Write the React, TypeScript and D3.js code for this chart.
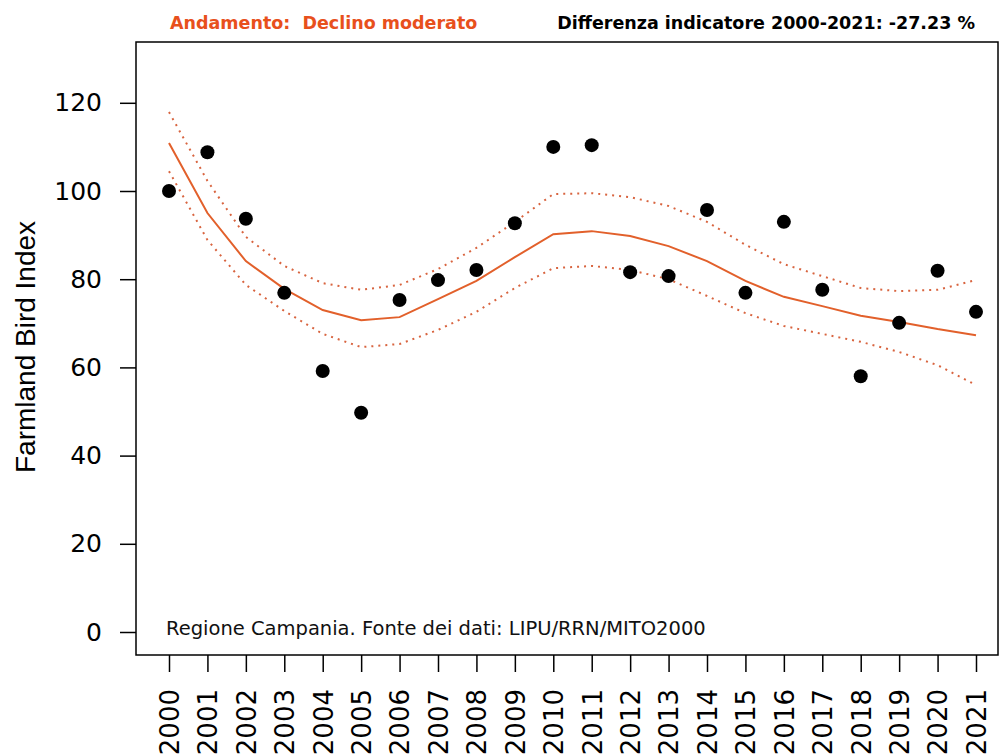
import React, { useRef, useEffect } from 'react';
import * as d3 from 'd3';

// Years on the x axis
const years = d3.range(2000, 2022);

// Observed index values (points)
const indexValues = [100, 108.8, 93.7, 76.9, 59.2, 49.7, 75.3, 79.8, 82.1, 92.7, 110, 110.4,
  81.6, 80.7, 95.7, 76.9, 93, 77.6, 58, 70.1, 81.9, 72.6];

// Smoothed trend and its confidence band
const trendValues = [110.9, 95, 84.1, 77.8, 73, 70.7, 71.4, 75.5, 79.6, 85, 90.2, 90.9,
  89.8, 87.5, 84.1, 79.6, 76, 73.9, 71.7, 70.3, 68.7, 67.3];
const upperValues = [117.9, 102.3, 89.6, 83, 79.1, 77.6, 78.7, 82.3, 87.1, 93, 99.3, 99.5,
  98.6, 96.6, 93, 87.8, 83.4, 80.7, 78, 77.3, 77.6, 79.8];
const lowerValues = [104.5, 88.9, 78.7, 72.8, 67.6, 64.6, 65.3, 68.5, 72.6, 78, 82.5, 83,
  82.1, 80, 76.2, 72.3, 69.4, 67.6, 65.8, 63.5, 60.5, 56];

const yTicks = [0, 20, 40, 60, 80, 100, 120];

const App = () => {
  const svgRef = useRef<SVGSVGElement>(null);

  useEffect(() => {
    const width = 999;
    const height = 755;
    const left = 136;
    const right = 998;
    const top = 42;
    const bottom = 655;
    const font = 'DejaVu Sans, Verdana, sans-serif';

    const svg = d3.select(svgRef.current)
      .attr('width', width)
      .attr('height', height)
      .style('position', 'absolute')
      .style('left', '0px')
      .style('top', '0px')
      .style('font-family', font);

    svg.selectAll('*').remove();

    svg.append('rect')
      .attr('width', width).attr('height', height).attr('fill', '#fff');

    const x = d3.scaleLinear().domain([2000, 2021]).range([169, 976]);
    const y = d3.scaleLinear().domain([0, 100]).range([632, 191]);

    // plot box
    svg.append('rect')
      .attr('x', left).attr('y', top)
      .attr('width', right - left).attr('height', bottom - top)
      .attr('fill', 'none').attr('stroke', '#000').attr('stroke-width', 1.5);

    // y axis
    const yAxis = svg.append('g')
      .attr('transform', `translate(${left},0)`)
      .call(d3.axisLeft(y).tickValues(yTicks).tickSize(16).tickPadding(18).tickFormat(d3.format('d')));
    yAxis.select('.domain').remove();
    yAxis.selectAll('.tick line').attr('stroke', '#000').attr('stroke-width', 1.5);
    yAxis.selectAll('.tick text')
      .attr('font-size', 25).attr('fill', '#000')
      .style('font-family', font);

    // x axis
    const xAxis = svg.append('g')
      .attr('transform', `translate(0,${bottom})`)
      .call(d3.axisBottom(x).tickValues(years).tickSize(17).tickFormat(d3.format('d')));
    xAxis.select('.domain').remove();
    xAxis.selectAll('.tick line').attr('stroke', '#000').attr('stroke-width', 1.5);
    xAxis.selectAll('.tick text')
      .attr('font-size', 26).attr('fill', '#000')
      .style('font-family', font)
      .attr('transform', 'rotate(-90)')
      .attr('text-anchor', 'end')
      .attr('x', -34)
      .attr('y', 0)
      .attr('dy', '0.36em');

    // y label
    svg.append('text')
      .attr('transform', `translate(35,347) rotate(-90)`)
      .attr('text-anchor', 'middle')
      .attr('font-size', 28)
      .style('font-family', 'Liberation Sans, Arial, sans-serif')
      .text('Farmland Bird Index');

    // band and trend lines
    const line = d3.line<number>()
      .x((_, i) => x(years[i]))
      .y(d => y(d));

    [upperValues, lowerValues].forEach(vals => {
      svg.append('path')
        .datum(vals)
        .attr('fill', 'none')
        .attr('stroke', '#d8643f')
        .attr('stroke-width', 2)
        .attr('stroke-dasharray', '2,5')
        .attr('d', line);
    });

    svg.append('path')
      .datum(trendValues)
      .attr('fill', 'none')
      .attr('stroke', '#e2602b')
      .attr('stroke-width', 2)
      .attr('d', line);

    // points
    svg.append('g')
      .selectAll('circle')
      .data(indexValues)
      .join('circle')
      .attr('cx', (_, i) => x(years[i]))
      .attr('cy', d => y(d))
      .attr('r', 7)
      .attr('fill', '#000');

    // header texts
    svg.append('text')
      .attr('x', 170).attr('y', 29)
      .attr('font-size', 17.5).attr('font-weight', 'bold')
      .attr('fill', '#e8501c')
      .text('Andamento:  Declino moderato')
      .style('white-space', 'pre');

    svg.append('text')
      .attr('x', 975).attr('y', 29)
      .attr('text-anchor', 'end')
      .attr('font-size', 17.5).attr('font-weight', 'bold')
      .attr('fill', '#000')
      .text('Differenza indicatore 2000-2021: -27.23 %');

    // source note
    svg.append('text')
      .attr('x', 166).attr('y', 635)
      .attr('font-size', 19.5)
      .attr('fill', '#111')
      .text('Regione Campania. Fonte dei dati: LIPU/RRN/MITO2000');
  }, []);

  return <svg ref={svgRef}></svg>;
};

export default App;
